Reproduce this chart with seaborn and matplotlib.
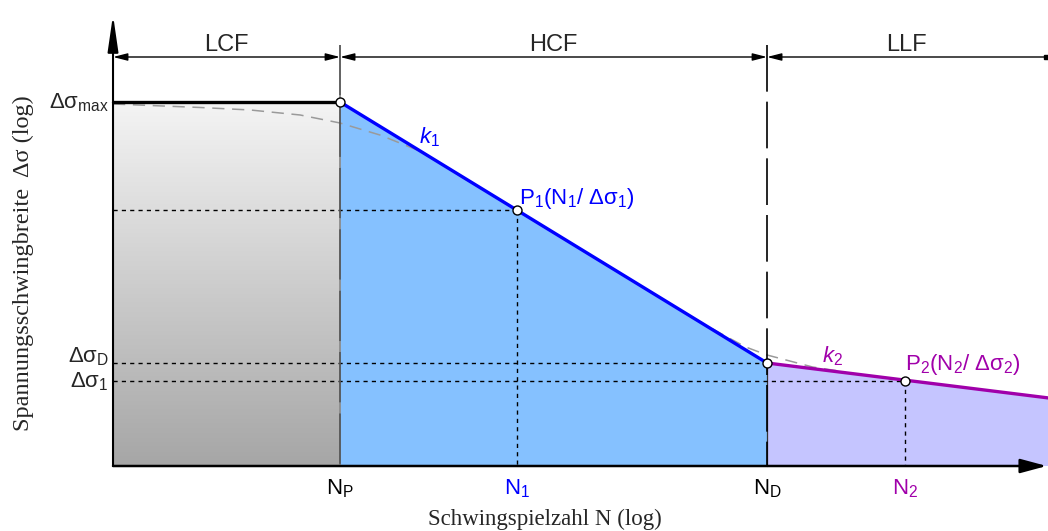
import matplotlib
matplotlib.use("Agg")
import matplotlib.pyplot as plt
from matplotlib.colors import LinearSegmentedColormap
import numpy as np
import seaborn as sns

# regions of the S-N curve, boundaries in log N
regions = ["LCF", "HCF", "LLF"]
region_edges = [1.405, 3.0, 6.0, 7.96]

# cycle numbers (log N) marked on the x axis
n_names = ["N$_\\mathrm{P}$", "N$_1$", "N$_\\mathrm{D}$", "N$_2$"]
n_values = [3.0, 4.24, 6.0, 6.97]

# stress ranges (log) marked on the y axis
s_names = ["Δσ$_\\mathrm{max}$", "Δσ$_\\mathrm{D}$", "Δσ$_1$"]
s_values = [3.64, 1.03, 0.85]

# Woehler line: plateau, slope k1, slope k2
curve_n = [1.405, 3.0, 6.0, 7.98]
curve_s = [3.64, 3.64, 1.03, 0.68]

# points P1 and P2
p_names = ["P$_1$(N$_1$/ Δσ$_1$)", "P$_2$(N$_2$/ Δσ$_2$)"]
p_n = [4.24, 6.97]
p_s = [2.56, 0.85]

# smooth "real" curve, grey dashed
smooth_n = [1.405, 2.02, 2.37, 2.72, 3.0, 3.28, 3.56, 3.81, 5.53, 5.72, 5.85, 6.0, 6.16, 6.32, 6.55]
smooth_s = [3.62, 3.585, 3.56, 3.51, 3.43, 3.31, 3.15, 2.93, 1.44, 1.29, 1.19, 1.11, 1.05, 0.99, 0.94]

BLUE = "#0000FF"
PURPLE = "#A000AA"
n_colors = ["black", BLUE, "black", PURPLE]

sns.set_theme(style="white")
plt.rcParams["font.family"] = ["Liberation Sans", "DejaVu Sans"]
plt.rcParams["mathtext.fontset"] = "custom"
plt.rcParams["mathtext.rm"] = "Liberation Sans"
plt.rcParams["mathtext.it"] = "Liberation Sans:italic"
plt.rcParams["mathtext.bf"] = "Liberation Sans:bold"

fig = plt.figure(figsize=(10.48, 5.31), dpi=100)
ax = fig.add_axes([0, 0, 1, 1])

x0 = region_edges[0]
n_p, n_d = n_values[0], n_values[2]
s_max, s_d = s_values[0], s_values[1]
dim_y = 4.09    # height of the dimension line
tick_top = 4.21

# filled areas
grey = LinearSegmentedColormap.from_list("lcf", ["#A6A6A6", "#F4F4F4"])
grad = np.linspace(0, 1, 256).reshape(-1, 1)
ax.imshow(grad, extent=[x0, n_p + 0.02, 0, s_max], origin="lower", aspect="auto",
          cmap=grey, interpolation="nearest", zorder=1)
ax.fill_between(curve_n[1:3], curve_s[1:3], 0, facecolor="#85C1FF", edgecolor="none",
                antialiased=False, zorder=1.1)
ax.fill_between(curve_n[2:4], curve_s[2:4], 0, facecolor="#C5C5FF", edgecolor="none",
                antialiased=False, zorder=1.2)

# smooth curve
ax.plot(smooth_n, smooth_s, color="#9A9A9A", lw=1.1, dashes=(8, 5), zorder=2)

# dotted helper lines
dot = dict(color="black", lw=1.0, dashes=(3, 3), zorder=3)
for n, s in [(p_n[0], p_s[0]), (n_d, s_d), (p_n[1], p_s[1])]:
    ax.plot([x0, n], [s, s], **dot)
for n, s in zip(p_n, p_s):
    ax.plot([n, n], [s, 0], **dot)

# region boundaries
ax.plot([n_p, n_p], [tick_top, 0], color="#555555", gapcolor="#8C8C8C", lw=1.3,
        dashes=(28, 6), zorder=3)
ax.plot([n_d, n_d], [s_d, 0], color="#333333", lw=0.9, zorder=2.9)
ax.plot([n_d, n_d], [tick_top, 0], color="black", lw=1.2, dashes=(28, 6), zorder=3)

# Woehler line
sns.lineplot(x=curve_n[:2], y=curve_s[:2], color="black", lw=2.4, ax=ax, zorder=4)
sns.lineplot(x=curve_n[1:3], y=curve_s[1:3], color=BLUE, lw=2.4, ax=ax, zorder=4)
sns.lineplot(x=curve_n[2:], y=curve_s[2:], color=PURPLE, lw=2.4, ax=ax, zorder=4)
sns.scatterplot(x=[n_p, p_n[0], n_d, p_n[1]], y=[s_max, p_s[0], s_d, p_s[1]],
                s=42, color="white", edgecolor="black", linewidth=1, ax=ax, zorder=5)


def arrow(xy, xytext, style, lw):
    ax.annotate("", xy=xy, xytext=xytext, zorder=6,
                arrowprops=dict(arrowstyle=style, lw=lw, color="black",
                                shrinkA=0, shrinkB=0, mutation_scale=10))


# axes
arrow((x0, 4.51), (x0, 0), "-|>,head_length=2.2,head_width=0.32", 1.5)
arrow((7.965, 0), (x0, 0), "-|>,head_length=1.6,head_width=0.43", 1.8)

# dimension line with regions
dim = "<|-|>,head_length=0.86,head_width=0.22"
arrow((region_edges[1], dim_y), (region_edges[0], dim_y), dim, 1.0)
arrow((region_edges[2], dim_y), (region_edges[1], dim_y), dim, 1.0)
arrow((region_edges[2], dim_y), (region_edges[3], dim_y), "-|>,head_length=0.86,head_width=0.22", 1.0)
ax.plot(region_edges[3], dim_y, marker="s", ms=3, color="black")
for name, a, b in zip(regions, region_edges[:-1], region_edges[1:]):
    ax.annotate(name, xy=((a + b) / 2, dim_y), xytext=(0, 4.5), textcoords="offset points",
                ha="center", va="baseline", fontsize=17)

# y labels
s_dy = [-4.3, 0.3, -4.3]
for name, s, dy in zip(s_names, s_values, s_dy):
    ax.annotate(name, xy=(x0, s), xytext=(-3, dy), textcoords="offset points",
                ha="right", va="baseline", fontsize=16)

# x labels
for name, n, c in zip(n_names, n_values, n_colors):
    ax.annotate(name, xy=(n, 0), xytext=(0, -8.5), textcoords="offset points",
                ha="center", va="top", fontsize=16, color=c)

# point labels
ax.annotate(p_names[0], xy=(p_n[0], p_s[0]), xytext=(2, 4.3), textcoords="offset points",
            ha="left", va="baseline", fontsize=16, color=BLUE)
ax.annotate(p_names[1], xy=(p_n[1], p_s[1]), xytext=(0, 8), textcoords="offset points",
            ha="left", va="baseline", fontsize=16, color=PURPLE)

# slope labels
k1_n, k2_n = 3.625, 6.457
ax.annotate("$k_1$", xy=(k1_n, np.interp(k1_n, curve_n, curve_s)), xytext=(0, 14),
            textcoords="offset points", ha="center", va="center", fontsize=16, color=BLUE)
ax.annotate("$k_2$", xy=(k2_n, np.interp(k2_n, curve_n, curve_s)), xytext=(0, 11),
            textcoords="offset points", ha="center", va="center", fontsize=16, color=PURPLE)

ax.set_xlim(0.611, 7.974)
ax.set_ylim(-0.65, 4.66)
ax.set_axis_off()

fig.text(545 / 1048, 1 - 519 / 531, "Schwingspielzahl N (log)", ha="center", va="center",
         family="Liberation Serif", fontsize=16.5)
fig.text(23 / 1048, 0.505, "Spannungsschwingbreite  Δσ (log)", rotation=90,
         ha="center", va="center", family="Liberation Serif", fontsize=17.5)

fig.savefig("out.png", dpi=100)
